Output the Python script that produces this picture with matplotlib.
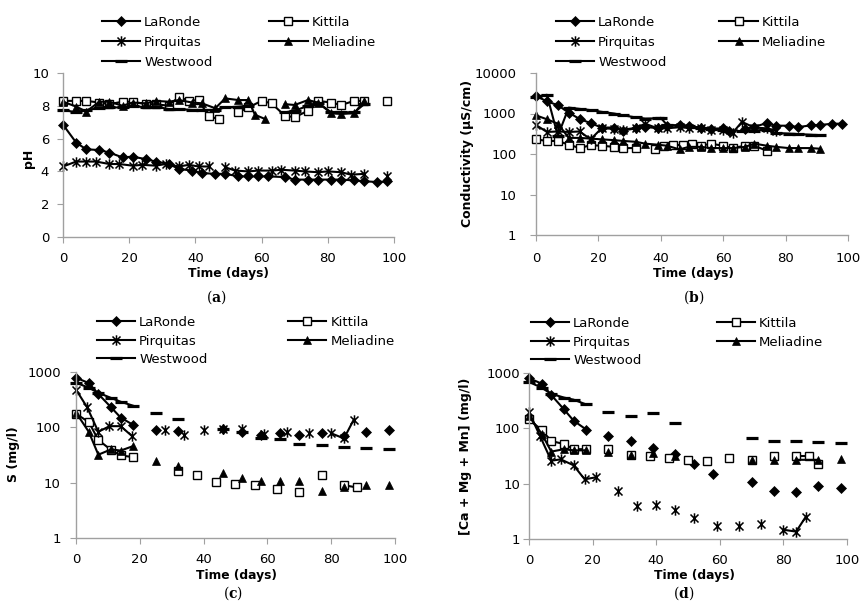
import numpy as np
import matplotlib
matplotlib.use("Agg")
import matplotlib.pyplot as plt
from matplotlib.path import Path
from matplotlib.ticker import FixedLocator, FixedFormatter, NullLocator

nan = np.nan
plt.rcParams['font.family'] = ['DejaVu Sans']
plt.rcParams['mathtext.fontset'] = 'dejavuserif'

names = ['LaRonde', 'Kittila', 'Pirquitas', 'Meliadine', 'Westwood']

# ---- (a) pH ----
a_lar_x = [0, 4, 7, 11, 14, 18, 21, 25, 28, 32, 35, 39, 42, 46, 49, 53, 56, 59, 62, 67, 70, 74, 77, 81, 84, 88, 91, 95, 98]
a_lar_y = [6.85, 5.75, 5.35, 5.3, 5.15, 4.85, 4.9, 4.75, 4.6, 4.45, 4.15, 4.05, 3.9, 3.85, 3.85, 3.7, 3.7, 3.7, 3.7, 3.65, 3.5, 3.5, 3.5, 3.5, 3.5, 3.45, 3.4, 3.35, 3.4]
a_kit_x = [0, 4, 7, 11, 14, 18, 21, 25, 28, 32, 35, 38, 41, 44, 47, nan, 53, 56, 60, 63, 67, 70, 74, 77, 81, 84, 88, 91, nan, 98]
a_kit_y = [8.3, 8.3, 8.3, 8.2, 8.1, 8.25, 8.25, 8.1, 8.1, 8.0, 8.55, 8.3, 8.35, 7.35, 7.2, nan, 7.6, 7.9, 8.3, 8.15, 7.4, 7.3, 7.7, 8.3, 8.2, 8.05, 8.3, 8.3, nan, 8.3]
a_pir_x = [0, 4, 7, 10, 14, 17, 21, 24, 28, 31, 35, 38, 41, 44, nan, 49, 52, 56, 59, 63, 66, 70, 73, 77, 80, 84, 87, 91, nan, 98]
a_pir_y = [4.3, 4.6, 4.6, 4.6, 4.45, 4.45, 4.35, 4.4, 4.35, 4.45, 4.3, 4.4, 4.3, 4.3, nan, 4.25, 4.05, 4.0, 4.05, 4.05, 4.1, 4.05, 4.0, 3.95, 4.0, 3.95, 3.8, 3.85, nan, 3.7]
a_mel_x = [0, 4, 7, 11, 14, 18, 21, 25, 28, 32, 35, 39, 42, 46, 49, 53, 56, 58, 61, nan, 67, 70, 74, 77, 81, 84, 88, 91]
a_mel_y = [8.25, 7.95, 7.65, 8.25, 8.25, 8.0, 8.2, 8.15, 8.3, 8.25, 8.35, 8.2, 8.15, 7.85, 8.45, 8.35, 8.35, 7.45, 7.2, nan, 8.1, 8.05, 8.35, 8.2, 7.55, 7.5, 7.55, 8.3]
a_wes_x = [0, 4, 7, 11, 14, 18, 21, 25, 28, 32, 35, 39, 42, 46, 49, 53, 56, nan, 67, 70, 74, 77, 81, 84, 88, 91]
a_wes_y = [7.75, 7.6, 7.75, 7.85, 7.9, 7.9, 8.0, 7.9, 7.95, 7.8, 7.8, 7.75, 7.75, 7.75, 7.9, 7.95, 8.0, nan, 7.6, 7.7, 8.0, 8.2, 7.6, 7.6, 7.6, 8.1]

# ---- (b) conductivity ----
b_lar_x = [0, 3.5, 7, 10.5, 14, 17.5, 21, 25, 28, 32, 35, 39, 42, 46, 49, 53, 56, 60, 62, nan, 67, 70, 74, 77, 81, 84, 88, 91, 95, 98]
b_lar_y = [2700, 2000, 1600, 1050, 730, 580, 450, 450, 380, 430, 470, 430, 500, 520, 480, 450, 420, 430, 380, nan, 420, 470, 580, 500, 500, 460, 510, 520, 560, 560]
b_kit_x = [0, 3.5, 7, 10.5, 14, 17.5, 21, 25, 28, 32, nan, 38, 41, 44, 47, 50, 53, 56, 60, 63, 67, 70, 74]
b_kit_y = [230, 210, 210, 170, 140, 165, 160, 150, 140, 140, nan, 130, 160, 170, 165, 180, 160, 180, 160, 140, 160, 160, 120]
b_pir_x = [0, 3.5, 7, 10.5, 14, 17.5, 21, 25, 28, 32, 35, 39, 42, 46, 49, 53, 56, 60, 63, 66, 70, 74, 77]
b_pir_y = [520, 350, 360, 350, 360, 230, 430, 420, 400, 440, 560, 430, 430, 460, 440, 430, 400, 400, 330, 620, 450, 430, 380]
b_mel_x = [0, 3.5, 7, 10.5, 14, 17.5, 21, 25, 28, 32, 35, 39, 42, 46, 49, 53, 56, 60, 63, 67, 70, 74, 77, 81, 84, 88, 91]
b_mel_y = [900, 720, 560, 250, 250, 240, 230, 220, 210, 200, 180, 170, 160, 130, 150, 150, 140, 140, 140, 150, 180, 160, 150, 140, 140, 140, 135]
b_wes_x = [0, 3.5, 7, 10.5, 14, 18, 21, 25, 28, 32, 35, 39, 40, 42, 46, 49, 53, 56, 60, 62, nan, 66, 70, 74, 77, 81, 84, 88, 91]
b_wes_y = [2600, 2900, 280, 1400, 1300, 1200, 1100, 1000, 900, 800, 750, 760, 780, 520, 500, 480, 450, 420, 400, 380, nan, 370, 380, 400, 330, 320, 310, 300, 290]

# ---- (c) S ----
c_lar_x = [0, 4, 7, 11, 14, 18, nan, 25, nan, 32, nan, 46, nan, 52, nan, 58, nan, 64, nan, 70, nan, 77, nan, 84, nan, 91, nan, 98]
c_lar_y = [790, 630, 400, 230, 150, 110, nan, 90, nan, 86, nan, 93, nan, 83, nan, 72, nan, 78, nan, 72, nan, 78, nan, 70, nan, 82, nan, 90]
c_kit_x = [0, 4, 7, 11, 14, 18, nan, 32, nan, 38, nan, 44, nan, 50, nan, 56, nan, 63, nan, 70, nan, 77, nan, 84, 88]
c_kit_y = [175, 125, 59, 39, 31, 29, nan, 16.5, nan, 14, nan, 10.2, nan, 9.3, nan, 8.9, nan, 7.7, nan, 6.7, nan, 13.7, nan, 9, 8.2]
c_pir_x = [0, 3.5, 7, 10.5, 14, 17.5, nan, 28, nan, 34, nan, 40, nan, 46, nan, 52, nan, 59, nan, 66, nan, 73, nan, 80, 84, 87]
c_pir_y = [480, 230, 83, 105, 105, 70, nan, 90, nan, 72, nan, 90, nan, 92, nan, 95, nan, 75, nan, 82, nan, 78, nan, 78, 63, 135]
c_mel_x = [0, 4, 7, 11, 14, 18, nan, 25, nan, 32, nan, 46, nan, 52, nan, 58, nan, 64, nan, 70, nan, 77, nan, 84, nan, 91, nan, 98]
c_mel_y = [185, 83, 32, 40, 38, 46, nan, 25, nan, 20, nan, 15, nan, 12, nan, 10.8, nan, 10.8, nan, 10.5, nan, 7.1, nan, 8.5, nan, 9.2, nan, 9.0]
c_wes_x = [0, 4, 7, 11, 14, 18, nan, 25, nan, 32, nan, 46, nan, 52, nan, 58, nan, 64, nan, 70, nan, 77, nan, 84, nan, 91, nan, 98]
c_wes_y = [640, 520, 420, 340, 290, 245, nan, 180, nan, 140, nan, 95, nan, 84, nan, 63, nan, 62, nan, 51, nan, 47, nan, 45, nan, 42, nan, 40]

# ---- (d) Ca + Mg + Mn ----
d_lar_x = [0, 4, 7, 11, 14, 18, nan, 25, nan, 32, nan, 39, nan, 46, nan, 52, nan, 58, nan, 70, nan, 77, nan, 84, nan, 91, nan, 98]
d_lar_y = [810, 640, 400, 220, 138, 95, nan, 72, nan, 59, nan, 45, nan, 35, nan, 23, nan, 14.8, nan, 10.5, nan, 7.4, nan, 7.1, nan, 9.1, nan, 8.2]
d_kit_x = [0, 4, 7, 11, 14, 18, nan, 25, nan, 32, nan, 38, nan, 44, nan, 50, nan, 56, nan, 63, nan, 70, nan, 77, nan, 84, 88, 91]
d_kit_y = [145, 93, 59, 52, 42, 42, nan, 42, nan, 33, nan, 31, nan, 28.5, nan, 27, nan, 25.7, nan, 29.5, nan, 27, nan, 31.6, nan, 31.6, 31.6, 23]
d_pir_x = [0, 3.5, 7, 10, 14, 17.5, 21, nan, 28, nan, 34, nan, 40, nan, 46, nan, 52, nan, 59, nan, 66, nan, 73, nan, 80, 84, 87]
d_pir_y = [195, 72, 26, 27.5, 21.5, 12, 13, nan, 7.4, nan, 4.0, nan, 4.2, nan, 3.3, nan, 2.4, nan, 1.74, nan, 1.74, nan, 1.86, nan, 1.47, 1.36, 2.5]
d_mel_x = [0, 4, 7, 11, 14, 18, nan, 25, nan, 32, nan, 39, nan, 46, nan, 70, nan, 77, nan, 84, 91, nan, 98]
d_mel_y = [165, 80, 38, 42, 40, 40, nan, 37, nan, 33, nan, 36, nan, 31, nan, 27, nan, 27, nan, 27, 27, nan, 28]
d_wes_x = [0, 4, 7, 11, 14, 18, nan, 25, nan, 32, nan, 39, nan, 46, nan, 70, nan, 77, nan, 84, nan, 91, nan, 98]
d_wes_y = [690, 540, 420, 360, 330, 270, nan, 195, nan, 165, nan, 190, nan, 125, nan, 66, nan, 60, nan, 60, nan, 57, nan, 55]

star = Path([(-1, -1), (1, 1), (-1, 1), (1, -1), (0, -1.3), (0, 1.3)],
            [Path.MOVETO, Path.LINETO, Path.MOVETO, Path.LINETO, Path.MOVETO, Path.LINETO])
styles = {
    'LaRonde': dict(marker='D', ms=5, mfc='black', mec='black', mew=0.5),
    'Kittila': dict(marker='s', ms=6.3, mfc='white', mec='black', mew=1.0),
    'Pirquitas': dict(marker=star, ms=7.5, mfc='none', mec='black', mew=1.1),
    'Meliadine': dict(marker='^', ms=6.3, mfc='black', mec='black', mew=0.5),
    'Westwood': dict(marker='_', ms=9, mec='black', mew=2.3),
}

W, H = 862, 612
fig = plt.figure(figsize=(W / 100, H / 100), dpi=100)
grey = '#A0A0A0'


def add_ax(l, t, r, b):
    return fig.add_axes([l / W, 1 - b / H, (r - l) / W, (b - t) / H])


def setup(ax, log, ymax, xpad, ypad):
    for s in ['top', 'right']:
        ax.spines[s].set_visible(False)
    for s in ['left', 'bottom']:
        ax.spines[s].set_color(grey)
        ax.spines[s].set_linewidth(1.0)
    ax.set_xlim(0, 100)
    ax.set_xticks(range(0, 101, 20))
    if log:
        ax.set_yscale('log')
        ax.set_ylim(1, ymax)
        vals = [10 ** k for k in range(int(np.log10(ymax)) + 1)]
        ax.yaxis.set_major_locator(FixedLocator(vals))
        ax.yaxis.set_major_formatter(FixedFormatter([str(v) for v in vals]))
        ax.yaxis.set_minor_locator(NullLocator())
    else:
        ax.set_ylim(0, ymax)
        ax.set_yticks(range(0, ymax + 1, 2))
    ax.tick_params(axis='both', direction='out', length=4, color=grey, labelsize=9.5)
    ax.tick_params(axis='x', pad=xpad)
    ax.tick_params(axis='y', pad=ypad)


def draw(ax, series):
    lines = {}
    for name, (x, y) in zip(names, series):
        ln, = ax.plot(x, y, color='black', lw=1.5, clip_on=False, label=name, **styles[name])
        lines[name] = ln
    return lines


def legend(ax, lines, left, top, colsp, rowsp):
    order = ['LaRonde', 'Pirquitas', 'Westwood', 'Kittila', 'Meliadine']
    ax.legend([lines[n] for n in order], order, ncol=2, loc='upper left',
              bbox_to_anchor=(left / W, 1 - top / H), bbox_transform=fig.transFigure,
              frameon=False, borderpad=0, borderaxespad=0, handlelength=2.9,
              handletextpad=0.3, columnspacing=colsp, labelspacing=rowsp, fontsize=9.5)


def ftext(x, y, s, **kw):
    fig.text(x / W, 1 - y / H, s, ha='center', va='center', **kw)


panels = [
    dict(box=(63, 73, 394, 237), log=False, ymax=10, xpad=6.5, ypad=6,
         data=[(a_lar_x, a_lar_y), (a_kit_x, a_kit_y), (a_pir_x, a_pir_y), (a_mel_x, a_mel_y), (a_wes_x, a_wes_y)],
         leg=(102, 16, 4.3, 0.52), ylab='pH', ylx=29, yly=158, tx=228, ty=273, cap='a', cx=216, cy=297),
    dict(box=(536, 73, 848, 235), log=True, ymax=10000, xpad=8, ypad=10,
         data=[(b_lar_x, b_lar_y), (b_kit_x, b_kit_y), (b_pir_x, b_pir_y), (b_mel_x, b_mel_y), (b_wes_x, b_wes_y)],
         leg=(556, 16, 4.0, 0.52), ylab='Conductivity (µS/cm)', ylx=468, yly=153, tx=693, ty=273, cap='b', cx=694, cy=297),
    dict(box=(76, 372, 395, 538), log=True, ymax=1000, xpad=6.5, ypad=7,
         data=[(c_lar_x, c_lar_y), (c_kit_x, c_kit_y), (c_pir_x, c_pir_y), (c_mel_x, c_mel_y), (c_wes_x, c_wes_y)],
         leg=(97, 316, 6.1, 0.42), ylab='S (mg/l)', ylx=14, yly=454, tx=236, ty=576, cap='c', cx=233, cy=593),
    dict(box=(529, 373, 847, 539), log=True, ymax=1000, xpad=6.5, ypad=2.5,
         data=[(d_lar_x, d_lar_y), (d_kit_x, d_kit_y), (d_pir_x, d_pir_y), (d_mel_x, d_mel_y), (d_wes_x, d_wes_y)],
         leg=(531, 317, 5.7, 0.42), ylab='[Ca + Mg + Mn] (mg/l)', ylx=466, yly=456, tx=694, ty=576, cap='d', cx=684, cy=593),
]

for p in panels:
    ax = add_ax(*p['box'])
    setup(ax, p['log'], p['ymax'], p['xpad'], p['ypad'])
    lines = draw(ax, p['data'])
    legend(ax, lines, *p['leg'])
    ftext(p['ylx'], p['yly'], p['ylab'], rotation=90, fontsize=9, fontweight='bold')
    ftext(p['tx'], p['ty'], 'Time (days)', fontsize=8.8, fontweight='bold')
    ftext(p['cx'], p['cy'], r'($\mathbf{%s}$)' % p['cap'], fontsize=10, family='DejaVu Serif')

fig.savefig('out.png', dpi=100)
